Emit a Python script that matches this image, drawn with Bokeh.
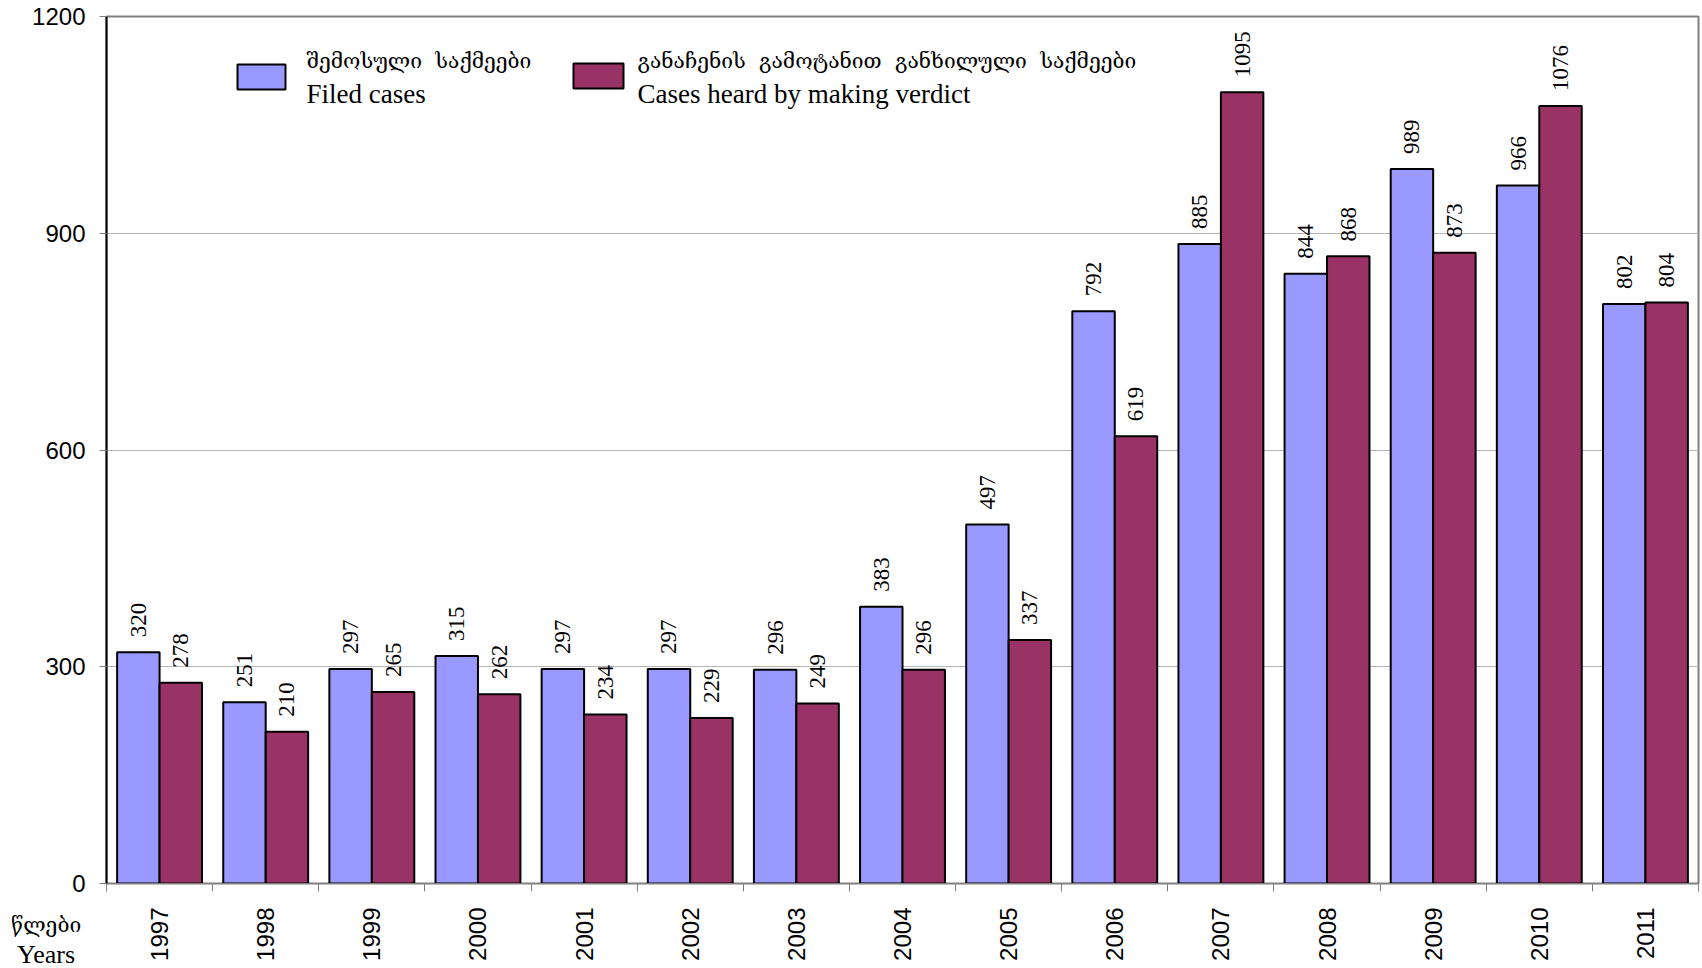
import numpy as np
from math import pi
from bokeh.plotting import figure
from bokeh.layouts import column
from bokeh.models import (ColumnDataSource, LabelSet, Label, BoxAnnotation,
                          FixedTicker, Range1d, Div)
from bokeh.embed import file_html
from bokeh.resources import INLINE

# ---------------- data ----------------
years = ["1997", "1998", "1999", "2000", "2001", "2002", "2003", "2004",
         "2005", "2006", "2007", "2008", "2009", "2010", "2011"]
filed = [320, 251, 297, 315, 297, 297, 296, 383, 497, 792, 885, 844, 989, 966, 802]
verdict = [278, 210, 265, 262, 234, 229, 249, 296, 337, 619, 1095, 868, 873, 1076, 804]
y_ticks = [0, 300, 600, 900, 1200]
series_ka = ["შემოსული\u00a0 საქმეები", "განაჩენის\u00a0 გამოტანით\u00a0 განხილული\u00a0 საქმეები"]
series_en = ["Filed cases", "Cases heard by making verdict"]
axis_ka = "წლები"
axis_en = "Years"

BLUE = "#9999FF"
RED = "#993366"

# ---------------- layout ----------------
W, H = 1700, 966
B_LEFT, B_RIGHT, B_TOP, B_BOTTOM = 106, 2, 16, 83
FW = W - B_LEFT - B_RIGHT
FH = H - B_TOP - B_BOTTOM
XMIN, XMAX = -0.5, len(years) - 0.5
YMIN, YMAX = 0, 1200

def px2x(px):
    return XMIN + (px - B_LEFT) / FW * (XMAX - XMIN)

def px2y(py):
    return YMAX - (py - B_TOP) / FH * (YMAX - YMIN)

idx = np.arange(len(years))
src = ColumnDataSource(dict(
    xf=idx - 0.2, xv=idx + 0.2,
    filed=filed, verdict=verdict,
    filed_s=[str(v) for v in filed], verdict_s=[str(v) for v in verdict],
))

p = figure(width=W, height=H, output_backend="svg", toolbar_location=None,
           x_range=Range1d(XMIN, XMAX), y_range=Range1d(YMIN, YMAX),
           min_border_left=B_LEFT, min_border_right=B_RIGHT,
           min_border_top=B_TOP, min_border_bottom=B_BOTTOM,
           background_fill_color="white", border_fill_color=None)

p.outline_line_color = "#808080"
p.outline_line_width = 2

p.vbar(x="xf", top="filed", width=0.4, source=src, fill_color=BLUE,
       line_color="black", line_width=2)
p.vbar(x="xv", top="verdict", width=0.4, source=src, fill_color=RED,
       line_color="black", line_width=2)

lab_font = "Liberation Serif"
for xcol, ycol, tcol in (("xf", "filed", "filed_s"), ("xv", "verdict", "verdict_s")):
    p.add_layout(LabelSet(x=xcol, y=ycol, text=tcol, source=src, angle=pi / 2,
                          text_align="left", text_baseline="middle", y_offset=15,
                          text_font=lab_font, text_font_size="23px", text_color="black"))

# grid
p.xgrid.grid_line_color = None
p.ygrid.grid_line_color = "#b4b4b4"
p.ygrid.grid_line_width = 1
p.ygrid.ticker = FixedTicker(ticks=y_ticks)

# y axis
p.yaxis.ticker = FixedTicker(ticks=y_ticks)
p.yaxis.axis_line_color = "black"
p.yaxis.axis_line_width = 2
p.yaxis.major_tick_line_color = "#808080"
p.yaxis.major_tick_in = 0
p.yaxis.major_tick_out = 7
p.yaxis.minor_tick_line_color = None
p.yaxis.major_label_text_font = "Liberation Sans"
p.yaxis.major_label_text_font_size = "24px"
p.yaxis.major_label_text_color = "black"
p.yaxis.major_label_standoff = 14

# x axis
p.xaxis.ticker = FixedTicker(ticks=list(idx), minor_ticks=list(idx - 0.5) + [XMAX])
p.xaxis.major_label_overrides = {int(i): y for i, y in zip(idx, years)}
p.xaxis.axis_line_color = "#808080"
p.xaxis.axis_line_width = 1
p.xaxis.major_tick_line_color = None
p.xaxis.major_tick_in = 0
p.xaxis.major_tick_out = 0
p.xaxis.minor_tick_line_color = "#808080"
p.xaxis.minor_tick_in = 0
p.xaxis.minor_tick_out = 8
p.xaxis.major_label_orientation = pi / 2
p.xaxis.major_label_text_font = "Liberation Sans"
p.xaxis.major_label_text_font_size = "24px"
p.xaxis.major_label_text_color = "black"
p.xaxis.major_label_standoff = 16

# ---------------- legend (manual) ----------------
ka_font = "DejaVu Serif"
boxes = [(237, 285, 64, 89), (573, 623, 63, 88)]
text_x = [306, 637]
colors = [BLUE, RED]
for (l, r, t, b), tx, c, ka, en in zip(boxes, text_x, colors, series_ka, series_en):
    p.add_layout(BoxAnnotation(left=px2x(l), right=px2x(r), top=px2y(t), bottom=px2y(b),
                               fill_color=c, fill_alpha=1, line_color="black",
                               line_width=2, line_alpha=1))
    p.add_layout(Label(x=px2x(tx), y=px2y(60), text=ka, text_font=ka_font,
                       text_font_size="21px", text_align="left", text_baseline="middle",
                       text_color="black"))
    p.add_layout(Label(x=px2x(tx), y=px2y(93), text=en, text_font=lab_font,
                       text_font_size="27px", text_align="left", text_baseline="middle",
                       text_color="black"))

# ---------------- axis caption (bottom-left, outside the plot frame) ----------------
CAP_W, CAP_H, CAP_TOP, CAP_LEFT = 80, 56, 910, 11
cap_html = (
    f'<div style="font-family:\'{ka_font}\';font-size:21px;line-height:30px;'
    f'text-align:center;color:black;white-space:nowrap">{axis_ka}</div>'
    f'<div style="font-family:\'{lab_font}\';font-size:26px;line-height:30px;'
    f'text-align:center;color:black;white-space:nowrap">{axis_en}</div>'
)
cap = Div(text=cap_html, width=CAP_W, height=CAP_H,
          margin=(CAP_TOP - H, 0, 0, CAP_LEFT),
          styles={"position": "relative", "z-index": "5", "overflow": "visible"})

layout = column(p, cap, spacing=0)
open("out.html", "w").write(file_html(layout, INLINE))
